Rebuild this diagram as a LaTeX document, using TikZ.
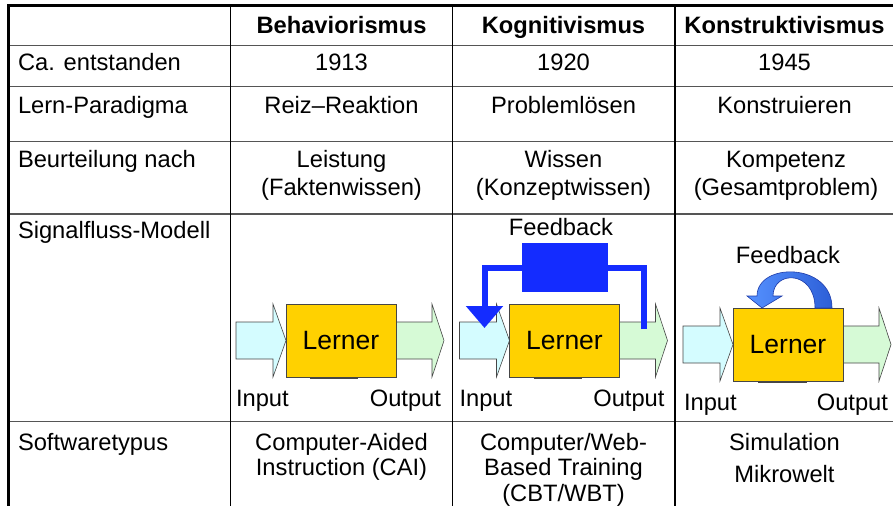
\documentclass[tikz,border=0pt]{standalone}
\usepackage{fontspec}
\setmainfont{Liberation Sans}
\usetikzlibrary{arrows.meta,positioning,calc,backgrounds}
\definecolor{gridgray}{RGB}{85,85,85}
\definecolor{edgegray}{RGB}{70,70,70}
\definecolor{infill}{RGB}{212,252,255}
\definecolor{outfill}{RGB}{214,250,214}
\definecolor{lernfill}{RGB}{255,209,0}
\definecolor{fbblue}{RGB}{20,44,255}
\definecolor{fblight}{RGB}{85,145,255}
\definecolor{fbdark}{RGB}{45,95,215}
\definecolor{fbedge}{RGB}{30,60,170}
\tikzset{
  tabtext/.style={font=\fontsize{23.7}{27.5}\selectfont, inner sep=0pt, outer sep=0pt},
  colhead/.style={tabtext, font=\fontsize{23.7}{27.5}\selectfont\bfseries, anchor=base},
  rowhead/.style={tabtext, anchor=base west},
  cellc/.style={tabtext, anchor=base, align=center},
  softcell/.style={cellc, font=\fontsize{23.7}{25.5}\selectfont},
  ruleH/.style={draw=gridgray, line width=1.3pt},
  ruleV/.style={draw=black, line width=1.3pt},
  tabframe/.style={draw=black, line width=2.7pt},
  lerner/.style={draw=edgegray, line width=0.6pt, fill=lernfill,
    minimum width=110pt, minimum height=73pt, inner sep=0pt, outer sep=0pt,
    font=\fontsize{26.5}{30}\selectfont},
  inarrow/.style={draw=edgegray, line width=0.6pt, fill=infill},
  outarrow/.style={draw=edgegray, line width=0.6pt, fill=outfill},
  boxshade/.style={draw=edgegray, line width=1.2pt},
  fbblock/.style={fill=fbblue, minimum width=86pt, minimum height=49pt, inner sep=0pt, outer sep=0pt},
  fbline/.style={draw=fbblue, line width=6pt},
  fbcurve/.style={draw=fbedge, line width=0.6pt, left color=fblight, right color=fbdark}
}

\begin{document}
\begin{tikzpicture}[x=1pt, y=-1pt]
\useasboundingbox (0,0) rectangle (893,506);

% ---- table rules ----
\foreach \yy in {45.5,86.5,141.5,214,421.5}
  \draw[ruleH] (8,\yy) -- (893,\yy);
\foreach \xx in {230.5,452.5,675}
  \draw[ruleV] (\xx,5.5) -- (\xx,506);
\draw[tabframe] (893,5.5) -- (8.7,5.5) -- (8.7,506);

% ---- header row ----
\node[colhead] (headBeh) at (341.5,33) {Behaviorismus};
\node[colhead] (headKog) at (563.5,33) {Kognitivismus};
\node[colhead] (headKon) at (784.5,33) {Konstruktivismus};

% ---- text rows (multi-line cells sit on their last line) ----
\node[rowhead] (labYear) at (18,70.5) {Ca. entstanden};
\node[cellc] (yearBeh) at (341.5,70.5) {1913};
\node[cellc] (yearKog) at (563.5,70.5) {1920};
\node[cellc] (yearKon) at (784.5,70.5) {1945};

\node[rowhead] (labPara) at (18,113) {Lern-Paradigma};
\node[cellc] (paraBeh) at (341.5,113) {Reiz--Reaktion};
\node[cellc] (paraKog) at (563.5,113) {Problemlösen};
\node[cellc] (paraKon) at (784.5,113) {Konstruieren};

\node[rowhead] (labEval) at (18,167.5) {Beurteilung nach};
\node[cellc] (evalBeh) at (341.5,195) {Leistung\\(Faktenwissen)};
\node[cellc] (evalKog) at (563.5,195) {Wissen\\(Konzeptwissen)};
\node[cellc] (evalKon) at (786,195) {Kompetenz\\(Gesamtproblem)};

\node[rowhead] (labSig) at (18,238) {Signalfluss-Modell};

\node[rowhead] (labSoft) at (18,450) {Softwaretypus};
\node[softcell] (softBeh) at (341.5,475.5) {Computer-Aided\\Instruction (CAI)};
\node[softcell] (softKog) at (563.5,501) {Computer/Web-\\Based Training\\(CBT/WBT)};
\node[softcell] (softKon) at (784.5,482) {Simulation\\[6.5pt]Mikrowelt};

% ---- Signalfluss: Behaviorismus ----
\node[lerner] (lerA) at (341,340.5) {Lerner};
\begin{scope}[on background layer]
  \draw[inarrow] ($(lerA.west)+(-50,-18.5)$) -- ++(37,0) -- ++(0,-18) -- (lerA.west)
    -- ++(-13,36.5) -- ++(0,-18) -- ++(-37,0) -- cycle;
  \draw[outarrow] ($(lerA.east)+(0,-18.5)$) -- ++(36,0) -- ++(0,-18) -- ++(12,36.5)
    -- ++(-12,36.5) -- ++(0,-18) -- ++(-36,0) -- cycle;
\end{scope}
\draw[boxshade] ($(lerA.south)+(-31,1.5)$) -- ++(48,0);
\node[tabtext, anchor=base west] (inA) at ($(lerA.south west)+(-50,29)$) {Input};
\node[tabtext, anchor=base east] (outA) at ($(lerA.south east)+(45,29)$) {Output};

% ---- Signalfluss: Kognitivismus ----
\node[lerner] (lerB) at (564.5,340.5) {Lerner};
\begin{scope}[on background layer]
  \draw[inarrow] ($(lerB.west)+(-50,-18.5)$) -- ++(37,0) -- ++(0,-18) -- (lerB.west)
    -- ++(-13,36.5) -- ++(0,-18) -- ++(-37,0) -- cycle;
  \draw[outarrow] ($(lerB.east)+(0,-18.5)$) -- ++(36,0) -- ++(0,-18) -- ++(12,36.5)
    -- ++(-12,36.5) -- ++(0,-18) -- ++(-36,0) -- cycle;
\end{scope}
\draw[boxshade] ($(lerB.south)+(-31,1.5)$) -- ++(48,0);
\node[tabtext, anchor=base west] (inB) at ($(lerB.south west)+(-50,29)$) {Input};
\node[tabtext, anchor=base east] (outB) at ($(lerB.south east)+(45,29)$) {Output};

\node[fbblock] (fbB) at (565,267.5) {};
\coordinate (fbtapB) at ($(lerB.east)+(24,-11.5)$);
\coordinate (fbtipB) at ($(lerB.west)+(-25,-12.5)$);
\draw[fbline] (fbtapB) |- (fbB.east);
\draw[fbline, -{Triangle[length=22pt,width=36pt]}] (fbB.west) -| (fbtipB);
\node[tabtext, above=7pt of fbB, xshift=-4pt] (fbtextB) {Feedback};

% ---- Signalfluss: Konstruktivismus ----
\node[lerner] (lerC) at (788,344.5) {Lerner};
\begin{scope}[on background layer]
  \draw[inarrow] ($(lerC.west)+(-50,-18.5)$) -- ++(37,0) -- ++(0,-18) -- (lerC.west)
    -- ++(-13,36.5) -- ++(0,-18) -- ++(-37,0) -- cycle;
  \draw[outarrow] ($(lerC.east)+(0,-18.5)$) -- ++(36,0) -- ++(0,-18) -- ++(12,36.5)
    -- ++(-12,36.5) -- ++(0,-18) -- ++(-36,0) -- cycle;
\end{scope}
\draw[boxshade] ($(lerC.south)+(-30,1.5)$) -- ++(49,0);
\node[tabtext, anchor=base west] (inC) at ($(lerC.south west)+(-49,29)$) {Input};
\node[tabtext, anchor=base east] (outC) at ($(lerC.south east)+(45,29)$) {Output};

% curved feedback arrow on top of the box
\begin{scope}[shift={(lerC.north)}]
  \draw[fbcurve] (44,0) .. controls (44,-46) and (-31,-46) .. (-31,-12)
    -- (-41,-12) -- (-26,0) -- (-6,-12) -- (-15,-12)
    .. controls (-15,-38) and (27,-38) .. (27,0) -- cycle;
\end{scope}
\node[tabtext, anchor=base] (fbtextC) at ($(lerC.north)+(0,-45)$) {Feedback};

\end{tikzpicture}
\end{document}
